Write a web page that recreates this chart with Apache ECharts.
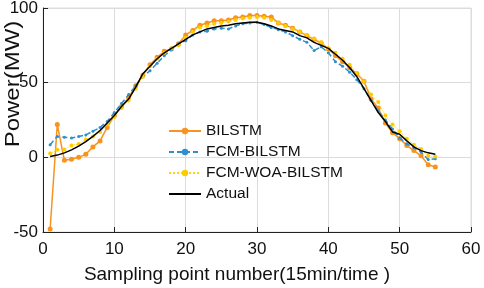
<!DOCTYPE html>
<html>
<head>
<meta charset="utf-8">
<script src="https://cdn.jsdelivr.net/npm/echarts@6/dist/echarts.min.js"></script>
<style>
  html, body { margin: 0; padding: 0; background: #fff; }
  #wrap { width: 484px; height: 288px; }
</style>
</head>
<body>
<div id="wrap"></div>
<script>
// sampling points 1..55
var xs = [];
for (var i = 1; i <= 55; i++) xs.push(i);

var bilstm = [-48, 22, -2, -1.3, 0, 2, 7, 11, 20, 28, 34, 40, 48, 55, 62, 67, 71, 72.5, 76, 82,
  85, 88.5, 90, 91.5, 91.5, 92, 93.5, 94, 95, 95, 94.5, 94, 90, 88.5, 86.5, 84, 81.5, 79, 76.5, 72.5,
  68, 64, 60, 56, 51, 39, 33, 23, 16.5, 12.5, 8, 4.5, 1, -5, -6.5];
var fcmBilstm = [8.5, 14, 13.5, 13, 14, 15, 17.5, 20, 24, 30, 36, 42, 48, 54, 58, 63, 68, 72, 76, 78,
  82, 84, 84.5, 86, 86.5, 86, 88, 89.5, 90, 90.5, 89, 87, 85.5, 84, 81.5, 79, 77, 71.5, 74, 70,
  64, 61, 57, 52, 46, 38, 31, 25, 19, 13, 9, 6.5, 3.5, -1.5, -1];
var fcmWoaBilstm = [2.5, 5, 5.3, 8, 9, 12, 14, 17, 22, 27, 33, 38, 46, 54, 61, 66, 70, 73, 75, 80,
  84, 87, 88, 89.5, 90, 91, 92, 93, 93.5, 94, 93.5, 92, 90, 88, 86, 84, 82, 79.5, 77, 73,
  70, 66, 62, 56.5, 51, 42, 37, 28, 22, 17.5, 12.5, 8.5, 5.5, 1, 0.5];
var actual = [0.5, 1.5, 3, 5, 7.5, 10.5, 14, 18, 23, 28, 34, 39, 47, 56, 61, 66, 70, 73, 76, 79,
  82, 84, 86, 87, 88, 88.5, 89.5, 90, 90.5, 90.5, 89.5, 88, 86, 85, 84, 81.5, 80, 77, 75, 73,
  69, 65, 60, 54, 46, 38, 30, 24, 17, 15.5, 11, 7, 4.5, 3, 2];

function pairs(arr) {
  return arr.map(function (v, k) { return [xs[k], v]; });
}

var font = "'Liberation Sans', Arial, sans-serif";

var myChart = echarts.init(document.getElementById('wrap'));
var option = {
  animation: false,
  textStyle: { fontFamily: font },
  grid: {
    left: 43, right: 13, top: 8, bottom: 56,
    outerBoundsMode: 'none', containLabel: false,
    show: true, borderColor: '#dcdcdc', borderWidth: 1
  },
  // y axis title sits above the middle in the original, so placed by hand
  graphic: [{
    type: 'text',
    x: 13, y: 84,
    rotation: Math.PI / 2,
    scaleX: 1.2,
    style: {
      text: 'Power(MW)', fill: '#111', font: '20px ' + font,
      align: 'center', verticalAlign: 'middle'
    }
  }],
  legend: {
    orient: 'vertical',
    left: 163, top: 118,
    itemWidth: 32, itemHeight: 8, itemGap: 5,
    textStyle: { fontSize: 15.5, color: '#111', lineHeight: 16, fontFamily: font },
    data: ['BILSTM', 'FCM-BILSTM', 'FCM-WOA-BILSTM',
      { name: 'Actual', itemStyle: { opacity: 0 } }]
  },
  xAxis: {
    type: 'value', min: 0, max: 60, interval: 10,
    name: 'Sampling point number(15min/time )',
    nameLocation: 'middle', nameGap: 33,
    nameTextStyle: { fontSize: 19, color: '#111', padding: [0, 40, 0, 0] },
    axisLine: { onZero: false, lineStyle: { color: '#222', width: 1 } },
    axisTick: { inside: true, length: 5, lineStyle: { color: '#222' } },
    axisLabel: { fontSize: 17, color: '#111', margin: 9 },
    splitLine: { lineStyle: { color: '#dcdcdc' } }
  },
  yAxis: {
    type: 'value', min: -50, max: 100, interval: 50,
    axisLine: { onZero: false, lineStyle: { color: '#222', width: 1 } },
    axisTick: { inside: true, length: 5, lineStyle: { color: '#222' } },
    axisLabel: { fontSize: 17, color: '#111', margin: 5 },
    splitLine: { lineStyle: { color: '#dcdcdc' } }
  },
  series: [
    {
      name: 'BILSTM', type: 'line', data: pairs(bilstm),
      symbol: 'circle', symbolSize: 5, showSymbol: true,
      lineStyle: { color: '#F7931E', width: 1.5 },
      itemStyle: { color: '#F7931E' }, z: 3
    },
    {
      name: 'FCM-BILSTM', type: 'line', data: pairs(fcmBilstm),
      symbol: 'circle', symbolSize: 3, showSymbol: true,
      lineStyle: { color: '#2E8FD0', width: 1.5, type: [5, 3] },
      itemStyle: { color: '#2E8FD0' }, z: 4
    },
    {
      name: 'FCM-WOA-BILSTM', type: 'line', data: pairs(fcmWoaBilstm),
      symbol: 'circle', symbolSize: 4, showSymbol: true,
      lineStyle: { color: '#FFD21A', width: 1, type: 'dotted' },
      itemStyle: { color: '#FFCC00' }, z: 5
    },
    {
      name: 'Actual', type: 'line', data: pairs(actual),
      symbol: 'none',
      lineStyle: { color: '#000', width: 1.5 },
      itemStyle: { color: '#000' }, z: 6
    }
  ]
};
myChart.setOption(option);
</script>
</body>
</html>
